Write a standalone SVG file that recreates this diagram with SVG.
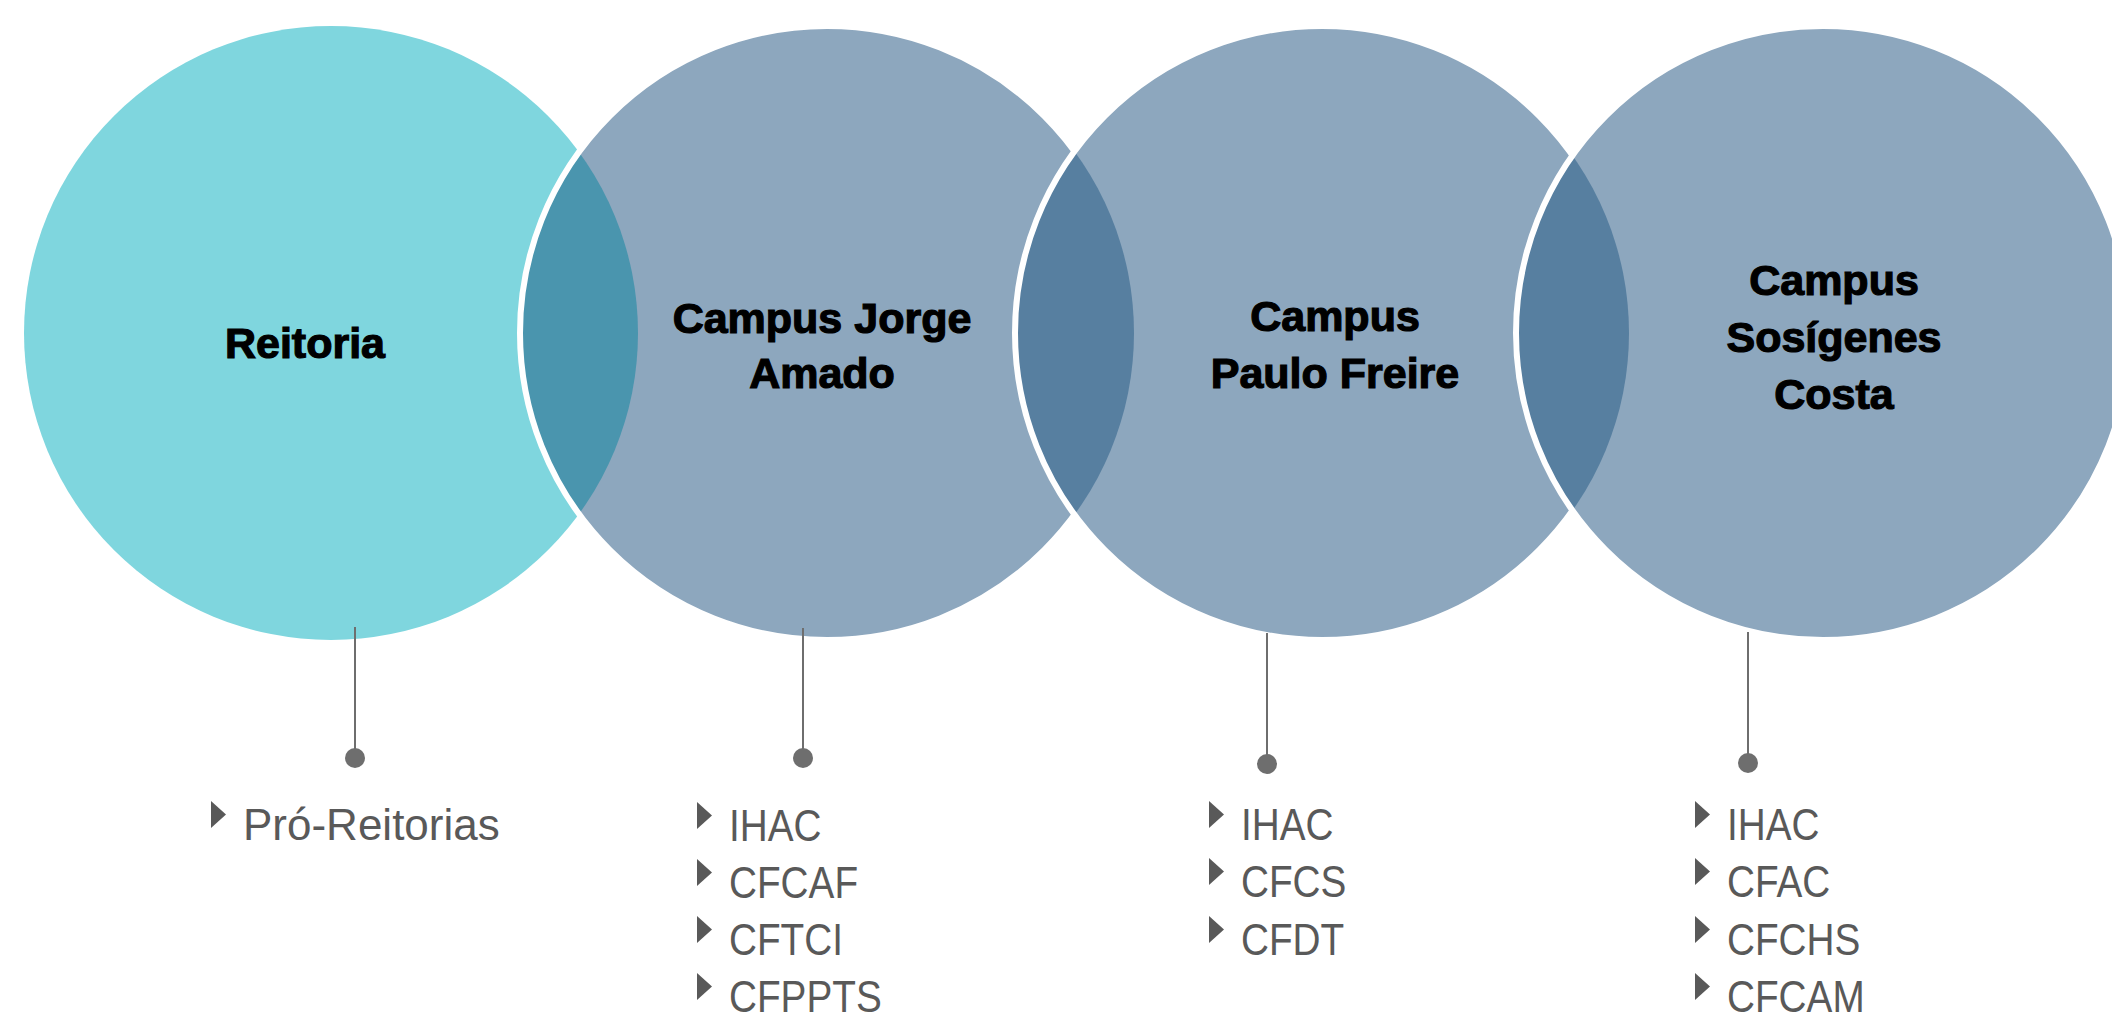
<svg xmlns="http://www.w3.org/2000/svg" xmlns:xlink="http://www.w3.org/1999/xlink" width="2112" height="1013" viewBox="0 0 2112 1013">
<style>
.cy{fill:#7fd6de}
.bl{fill:#8da7be}
.lens1{fill:#4a95ae}
.lens{fill:#577fa0}
.ring{fill:none;stroke:#ffffff;stroke-width:6}
.title{font-family:"Liberation Sans",Arial,sans-serif;font-weight:bold;font-size:43px;fill:#000;stroke:#000;stroke-width:1.2;text-anchor:middle}
.item{font-family:"Liberation Sans",Arial,sans-serif;font-size:44px;fill:#595959}
.tri{fill:#595959}
.stem{stroke:#6e6e6e;stroke-width:2;fill:none}
.dot{fill:#6e6e6e}
</style>
<defs>
<clipPath id="c1"><circle cx="331" cy="333" r="307"/></clipPath>
<clipPath id="c2"><circle cx="827" cy="333" r="307"/></clipPath>
<clipPath id="c3"><circle cx="1322" cy="333" r="307"/></clipPath>
<path id="tri" d="M0,0 L15,13.5 L0,27 Z"/>
</defs>
<rect x="0" y="0" width="2112" height="1013" fill="#ffffff"/>

<g id="node-reitoria">
<circle class="cy" cx="331" cy="333" r="307"/>
<text class="title" x="305" y="358">Reitoria</text>
<use href="#tri" class="tri" x="211" y="801"/>
<text class="item" x="243" y="840">Pró-Reitorias</text>
</g>

<g id="node-jorge-amado">
<circle class="bl" cx="827" cy="333" r="307"/>
<circle class="lens1" cx="827" cy="333" r="307" clip-path="url(#c1)"/>
<circle class="ring" cx="827" cy="333" r="307"/>
<text class="title" x="822" y="333">Campus Jorge</text>
<text class="title" x="822" y="388">Amado</text>
<use href="#tri" class="tri" x="697" y="802"/>
<use href="#tri" class="tri" x="697" y="859"/>
<use href="#tri" class="tri" x="697" y="916"/>
<use href="#tri" class="tri" x="697" y="973"/>
<g transform="translate(729,0) scale(0.88,1)">
<text class="item" x="0" y="841">IHAC</text>
<text class="item" x="0" y="898">CFCAF</text>
<text class="item" x="0" y="955">CFTCI</text>
<text class="item" x="0" y="1012">CFPPTS</text>
</g>
</g>

<g id="node-paulo-freire">
<circle class="bl" cx="1322" cy="333" r="307"/>
<circle class="lens" cx="1322" cy="333" r="307" clip-path="url(#c2)"/>
<circle class="ring" cx="1322" cy="333" r="307"/>
<text class="title" x="1335" y="331">Campus</text>
<text class="title" x="1335" y="388">Paulo Freire</text>
<use href="#tri" class="tri" x="1209" y="801"/>
<use href="#tri" class="tri" x="1209" y="858"/>
<use href="#tri" class="tri" x="1209" y="916"/>
<g transform="translate(1241,0) scale(0.88,1)">
<text class="item" x="0" y="840">IHAC</text>
<text class="item" x="0" y="897">CFCS</text>
<text class="item" x="0" y="955">CFDT</text>
</g>
</g>

<g id="node-sosigenes-costa">
<circle class="bl" cx="1823" cy="333" r="307"/>
<circle class="lens" cx="1823" cy="333" r="307" clip-path="url(#c3)"/>
<circle class="ring" cx="1823" cy="333" r="307"/>
<text class="title" x="1834" y="295">Campus</text>
<text class="title" x="1834" y="352">Sosígenes</text>
<text class="title" x="1834" y="409">Costa</text>
<use href="#tri" class="tri" x="1695" y="801"/>
<use href="#tri" class="tri" x="1695" y="858"/>
<use href="#tri" class="tri" x="1695" y="916"/>
<use href="#tri" class="tri" x="1695" y="973"/>
<g transform="translate(1727,0) scale(0.88,1)">
<text class="item" x="0" y="840">IHAC</text>
<text class="item" x="0" y="897">CFAC</text>
<text class="item" x="0" y="955">CFCHS</text>
<text class="item" x="0" y="1012">CFCAM</text>
</g>
</g>

<g id="connectors">
<line class="stem" x1="355" y1="627" x2="355" y2="758"/>
<circle class="dot" cx="355" cy="758" r="10"/>
<line class="stem" x1="803" y1="628" x2="803" y2="758"/>
<circle class="dot" cx="803" cy="758" r="10"/>
<line class="stem" x1="1267" y1="633" x2="1267" y2="764"/>
<circle class="dot" cx="1267" cy="764" r="10"/>
<line class="stem" x1="1748" y1="632" x2="1748" y2="763"/>
<circle class="dot" cx="1748" cy="763" r="10"/>
</g>
</svg>
